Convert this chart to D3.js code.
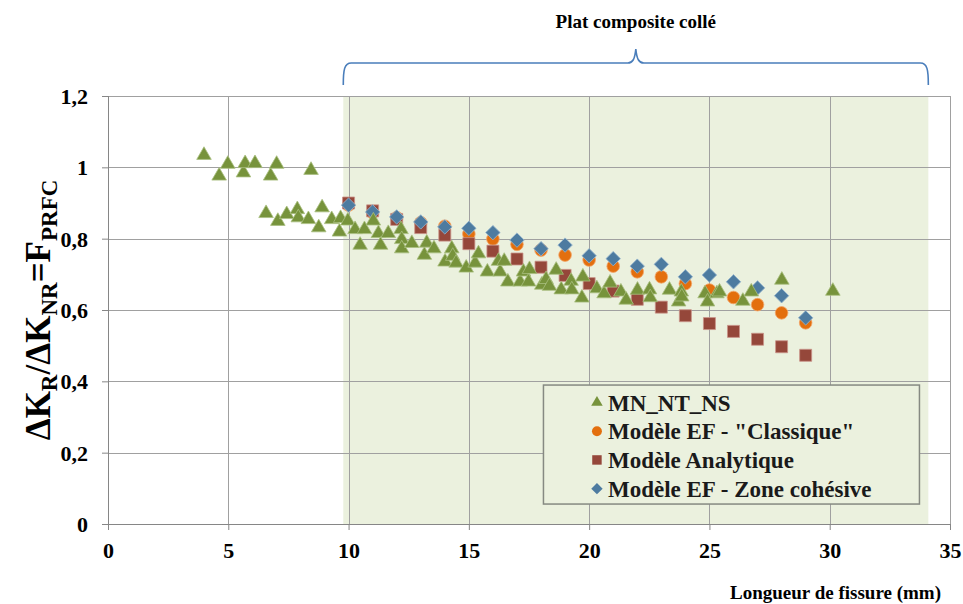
<!DOCTYPE html>
<html>
<head>
<meta charset="utf-8">
<script src="https://cdn.jsdelivr.net/npm/d3@7"></script>
<style>
  body { margin: 0; background: #fff; }
  .grid line { stroke: #a0a0a0; stroke-width: 1; }
  .axis path, .axis line { stroke: #868686; }
</style>
</head>
<body>
<svg id="chart"></svg>
<script>
// axis ticks
const xTicks = [0, 5, 10, 15, 20, 25, 30, 35];
const yTicks = [0, 0.2, 0.4, 0.6, 0.8, 1, 1.2];

// bonded composite patch zone (mm)
const patchZone = [9.78, 34.1];

// MN_NT_NS measurements
const mnLength = [3.99, 4.62, 4.98, 5.63, 5.70, 6.11, 6.76, 7.01, 8.44,
  6.57, 7.06, 7.43, 7.87, 7.91, 8.33, 8.76, 8.90, 9.30, 9.62, 9.67, 9.97,
  10.27, 10.48, 10.66, 11.03, 11.24, 11.33, 11.65, 12.18, 12.21, 12.21, 12.63,
  13.15, 13.25, 13.55, 14.01, 14.29, 14.33, 14.47, 14.89, 15.26, 15.40, 15.77,
  16.23, 16.30, 16.47, 16.62, 17.13, 17.27, 17.52, 17.48, 18.03, 18.21, 18.35, 18.63, 18.84,
  19.25, 19.28, 19.70, 19.74, 20.32, 20.62, 20.87, 21.32, 21.54, 22.01, 22.51, 22.54,
  23.34, 23.72, 23.83, 23.85, 24.82, 24.92, 25.31, 25.42, 26.39, 26.74, 28.01, 30.13];
const mnRatio = [1.034, 0.976, 1.009, 0.985, 1.011, 1.011, 0.976, 1.009, 0.992,
  0.871, 0.849, 0.868, 0.882, 0.859, 0.854, 0.831, 0.887, 0.854, 0.819, 0.857, 0.850,
  0.826, 0.782, 0.826, 0.850, 0.815, 0.782, 0.815, 0.826, 0.798, 0.772, 0.787,
  0.754, 0.788, 0.772, 0.735, 0.772, 0.751, 0.732, 0.718, 0.732, 0.758, 0.707,
  0.737, 0.707, 0.737, 0.679, 0.679, 0.707, 0.714, 0.679, 0.670, 0.686, 0.667, 0.712, 0.657,
  0.681, 0.657, 0.634, 0.693, 0.660, 0.646, 0.676, 0.651, 0.628, 0.656, 0.657, 0.635,
  0.656, 0.623, 0.651, 0.637, 0.646, 0.623, 0.646, 0.651, 0.625, 0.651, 0.684, 0.653];

// model curves, one value per mm
const modelLength = [10, 11, 12, 13, 14, 15, 16, 17, 18, 19, 20, 21, 22, 23, 24, 25, 26, 27, 28, 29];
const efClassique = [0.894, 0.873, 0.859, 0.845, 0.835, 0.813, 0.799, 0.784, 0.768, 0.754,
  0.740, 0.723, 0.707, 0.693, 0.674, 0.656, 0.635, 0.615, 0.592, 0.564];
const analytique = [0.900, 0.878, 0.854, 0.831, 0.810, 0.786, 0.765, 0.743, 0.720, 0.697,
  0.674, 0.653, 0.630, 0.608, 0.584, 0.562, 0.540, 0.518, 0.497, 0.473];
const zoneCohesive = [0.894, 0.875, 0.861, 0.847, 0.833, 0.829, 0.817, 0.796, 0.772, 0.782,
  0.752, 0.744, 0.723, 0.728, 0.693, 0.698, 0.679, 0.662, 0.640, 0.578];

const seriesNames = ['MN_NT_NS', 'Modèle EF - "Classique"', 'Modèle Analytique', 'Modèle EF - Zone cohésive'];

const SERIF = '"Liberation Serif", "Times New Roman", serif';

class FissureChart {
  constructor(_config) {
    this.config = {
      parentElement: _config.parentElement,
      containerWidth: _config.containerWidth || 963,
      containerHeight: _config.containerHeight || 604,
      margin: _config.margin || {top: 96, right: 13, bottom: 80, left: 108}
    };
    this.styles = [
      {shape: 'triangle', fill: '#77933c', stroke: '#a9bf80', size: 92},
      {shape: 'circle', fill: '#e36f0e', stroke: '#f2a66a', size: 125},
      {shape: 'square', fill: '#95473a', stroke: '#c99389', size: 144},
      {shape: 'diamond', fill: '#4d7ba0', stroke: '#92b2cc', size: 104}
    ];
    this.initVis();
  }

  initVis() {
    let vis = this;
    vis.svg = d3.select(vis.config.parentElement)
      .attr('width', vis.config.containerWidth)
      .attr('height', vis.config.containerHeight)
      .style('font-family', SERIF)
      .style('font-weight', 'bold');
    vis.chart = vis.svg.append('g')
      .attr('transform', `translate(${vis.config.margin.left},${vis.config.margin.top})`);

    vis.xScale = d3.scaleLinear().domain([0, 35]).range([0, 842]);
    vis.yScale = d3.scaleLinear().domain([0, 1.2]).range([428, 0]);
    vis.fmt = (d) => String(d).replace('.', ',');

    vis.renderVis();
  }

  symbolPath(style, scale) {
    const k = scale || 1;
    if (style.shape === 'triangle') return d3.symbol(d3.symbolTriangle, style.size * k)();
    if (style.shape === 'circle') return d3.symbol(d3.symbolCircle, style.size * k)();
    return d3.symbol(d3.symbolSquare, style.size * k)();
  }

  renderVis() {
    let vis = this;
    const x = vis.xScale, y = vis.yScale;
    const plotW = x(35), plotH = y(0);

    // shaded patch area
    vis.chart.append('rect')
      .attr('x', x(patchZone[0]))
      .attr('y', 0)
      .attr('width', x(patchZone[1]) - x(patchZone[0]))
      .attr('height', plotH)
      .attr('fill', '#ebf1de');

    // gridlines
    const grid = vis.chart.append('g').attr('class', 'grid');
    grid.selectAll('.hgrid').data(yTicks.filter((d) => d > 0)).join('line')
      .attr('class', 'hgrid')
      .attr('x1', 0).attr('x2', plotW)
      .attr('y1', (d) => Math.round(y(d)) + 0.5).attr('y2', (d) => Math.round(y(d)) + 0.5);
    grid.selectAll('.vgrid').data(xTicks.filter((d) => d > 0)).join('line')
      .attr('class', 'vgrid')
      .attr('y1', 0).attr('y2', plotH)
      .attr('x1', (d) => Math.round(x(d)) + 0.5).attr('x2', (d) => Math.round(x(d)) + 0.5);

    // axes
    const xAxis = d3.axisBottom(x).tickValues(xTicks).tickSize(6).tickPadding(12).tickFormat(vis.fmt);
    const yAxis = d3.axisLeft(y).tickValues(yTicks).tickSize(6).tickPadding(14).tickFormat(vis.fmt);
    vis.chart.append('g').attr('class', 'axis x-axis')
      .attr('transform', `translate(0,${plotH})`).call(xAxis)
      .call((g) => g.select('.domain').attr('d', `M0.5,0.5H${plotW}`));
    vis.chart.append('g').attr('class', 'axis y-axis').call(yAxis)
      .call((g) => g.select('.domain').attr('d', `M0.5,0V${plotH}`));
    vis.chart.selectAll('.axis')
      .attr('font-family', SERIF).attr('font-size', 22).attr('font-weight', 'bold');
    vis.chart.selectAll('.axis text').attr('fill', '#000');
    vis.chart.selectAll('.y-axis text').attr('dy', '0.34em');
    vis.chart.selectAll('.x-axis text').attr('dy', '0.71em');

    // series data
    const series = [
      mnLength.map((d, i) => ({x: d, y: mnRatio[i]})),
      modelLength.map((d, i) => ({x: d, y: efClassique[i]})),
      modelLength.map((d, i) => ({x: d, y: analytique[i]})),
      modelLength.map((d, i) => ({x: d, y: zoneCohesive[i]}))
    ];
    const drawOrder = [1, 2, 3, 0];
    drawOrder.forEach((si) => {
      const st = vis.styles[si];
      vis.chart.append('g').attr('class', 'series series-' + si)
        .selectAll('path').data(series[si]).join('path')
        .attr('d', vis.symbolPath(st))
        .attr('transform', (d) => `translate(${x(d.x)},${y(d.y)})` + (st.shape === 'diamond' ? ' rotate(45)' : ''))
        .attr('fill', st.fill)
        .attr('stroke', st.stroke)
        .attr('stroke-width', 0.8);
    });

    // legend
    const legend = vis.chart.append('g').attr('transform', `translate(${x(18.08)},${y(0.391)})`);
    legend.append('rect')
      .attr('x', 0.5).attr('y', 0.5)
      .attr('width', 376).attr('height', 119)
      .attr('fill', '#ebf1de')
      .attr('stroke', '#868a82').attr('stroke-width', 1.5);
    const items = legend.selectAll('.legend-item').data(seriesNames).join('g')
      .attr('class', 'legend-item')
      .attr('transform', (d, i) => `translate(54,${18 + i * 28.7})`);
    items.append('path')
      .attr('d', (d, i) => vis.symbolPath(vis.styles[i], 0.62))
      .attr('transform', (d, i) => vis.styles[i].shape === 'diamond' ? 'rotate(45)' : null)
      .attr('fill', (d, i) => vis.styles[i].fill);
    items.append('text')
      .attr('x', 11).attr('dy', '0.35em')
      .style('font-size', '23px').attr('fill', '#1a1a1a')
      .text((d) => d);

    // bracket over the bonded patch
    const bx0 = x(patchZone[0]) + vis.config.margin.left;
    const bx1 = x(patchZone[1]) + vis.config.margin.left;
    const bm = (bx0 + bx1) / 2;
    vis.svg.append('path')
      .attr('d', `M${bx0},85 C${bx0},70 ${bx0 + 1},63 ${bx0 + 8},63 L${bm - 8},63 C${bm - 3},63 ${bm - 1},59 ${bm},49 ` +
        `C${bm + 1},59 ${bm + 3},63 ${bm + 8},63 L${bx1 - 8},63 C${bx1 - 1},63 ${bx1},70 ${bx1},85`)
      .attr('fill', 'none').attr('stroke', '#4a7ebb').attr('stroke-width', 1.6);
    vis.svg.append('text')
      .attr('x', bm).attr('y', 28)
      .attr('text-anchor', 'middle').style('font-size', '19px')
      .text('Plat composite collé');

    // axis titles
    vis.svg.append('text')
      .attr('x', 941).attr('y', 599)
      .attr('text-anchor', 'end').style('font-size', '19px')
      .text('Longueur de fissure (mm)');

    const yTitle = vis.svg.append('text')
      .attr('transform', 'translate(50,310) rotate(-90)')
      .attr('text-anchor', 'middle').style('font-size', '35px');
    const parts = [['ΔK', false], ['R', true], ['/ΔK', false], ['NR', true], ['=F', false], ['PRFC', true]];
    parts.forEach((p, i) => {
      const prev = i > 0 && parts[i - 1][1];
      const t = yTitle.append('tspan').text(p[0]);
      if (p[1]) t.style('font-size', '23px').attr('dy', 7);
      else if (prev) t.attr('dy', -7);
    });
  }
}

new FissureChart({parentElement: '#chart'});
</script>
</body>
</html>
